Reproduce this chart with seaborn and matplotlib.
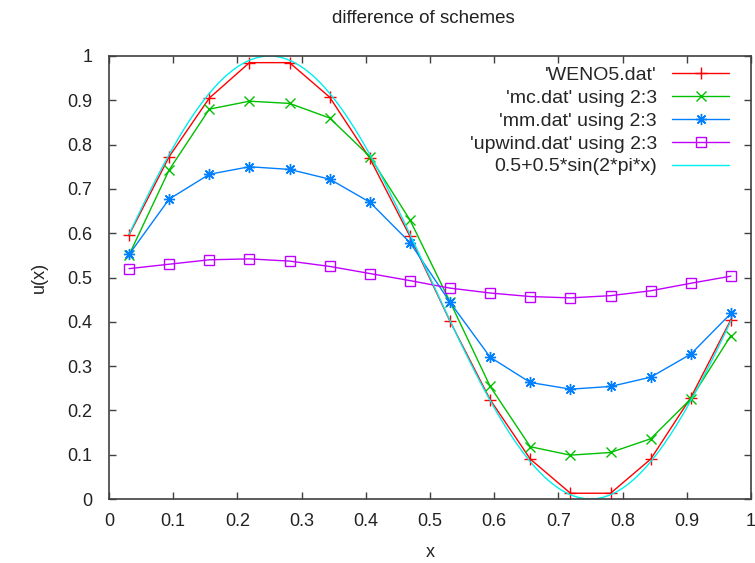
import matplotlib
matplotlib.use("Agg")
import matplotlib.pyplot as plt
import numpy as np
import seaborn as sns

# cell centres of the 16-cell grid
x_cells = [0.03125, 0.09375, 0.15625, 0.21875, 0.28125, 0.34375, 0.40625, 0.46875,
           0.53125, 0.59375, 0.65625, 0.71875, 0.78125, 0.84375, 0.90625, 0.96875]

weno5 = [0.596, 0.773, 0.905, 0.985, 0.985, 0.907, 0.769, 0.593,
         0.401, 0.224, 0.090, 0.013, 0.013, 0.090, 0.229, 0.405]
mc = [0.551, 0.743, 0.880, 0.898, 0.893, 0.860, 0.773, 0.630,
      0.445, 0.254, 0.118, 0.099, 0.105, 0.136, 0.226, 0.369]
mm = [0.552, 0.677, 0.733, 0.750, 0.744, 0.722, 0.670, 0.579,
      0.444, 0.320, 0.263, 0.248, 0.254, 0.275, 0.327, 0.419]
upwind = [0.520, 0.530, 0.540, 0.542, 0.537, 0.525, 0.509, 0.493,
          0.476, 0.465, 0.457, 0.454, 0.459, 0.470, 0.487, 0.503]

labels = ["'WENO5.dat'", "'mc.dat' using 2:3", "'mm.dat' using 2:3",
          "'upwind.dat' using 2:3", "0.5+0.5*sin(2*pi*x)"]
tick_vals = [0, 0.1, 0.2, 0.3, 0.4, 0.5, 0.6, 0.7, 0.8, 0.9, 1]
tick_labels = ["0", "0.1", "0.2", "0.3", "0.4", "0.5", "0.6", "0.7", "0.8", "0.9", "1"]

# the exact solution is the plotted function itself, sampled over the data range
x_exact = np.linspace(x_cells[0], x_cells[-1], 100)
u_exact = 0.5 + 0.5 * np.sin(2 * np.pi * x_exact)

sns.set_theme(style="white")
plt.rcParams["font.family"] = ["Liberation Sans", "DejaVu Sans"]

fig = plt.figure(figsize=(7.55, 5.63), dpi=100)
ax = fig.add_axes([109 / 755, 1 - 499 / 563, 642 / 755, 443 / 563])

series = [
    (weno5, "#ff0000", "+", 8, "#ff0000"),
    (mc, "#00c000", "x", 6.5, "#00c000"),
    (mm, "#0080ff", (8, 2, 0), 8, "#0080ff"),
    (upwind, "#c000ff", "s", 7, "none"),
]
for (vals, col, mk, ms, face), lab in zip(series, labels):
    sns.lineplot(x=x_cells, y=vals, ax=ax, color=col, lw=1, marker=mk,
                 markersize=ms, markeredgewidth=1, markeredgecolor=col,
                 markerfacecolor=face, label=lab)
sns.lineplot(x=x_exact, y=u_exact, ax=ax, color="#00eeee", lw=1, label=labels[4])

ax.set_xlim(0, 1)
ax.set_ylim(0, 1)
ax.set_xticks(tick_vals)
ax.set_xticklabels(tick_labels)
ax.set_yticks(tick_vals)
ax.set_yticklabels(tick_labels)
ax.tick_params(direction="in", length=5, width=1, colors="#404040",
               labelcolor="#222222", labelsize=13, top=True, right=True,
               bottom=True, left=True)
ax.tick_params(axis="y", pad=12)
ax.tick_params(axis="x", pad=10)
for s in ax.spines.values():
    s.set_color("#404040")
    s.set_linewidth(1.2)

ax.set_title("difference of schemes", fontsize=13.5, color="#222222", pad=24, x=0.49)
ax.set_xlabel("x", fontsize=13, color="#222222", labelpad=10)
ax.set_ylabel("u(x)", fontsize=13, color="#222222", labelpad=14)

ax.legend(loc="upper right", bbox_to_anchor=(0.985, 1.005), frameon=False,
          markerfirst=False, fontsize=14, handlelength=2.9,
          labelspacing=0.27, borderaxespad=0.25, handletextpad=0.8)

plt.savefig("out.png", dpi=100)
plt.close()
